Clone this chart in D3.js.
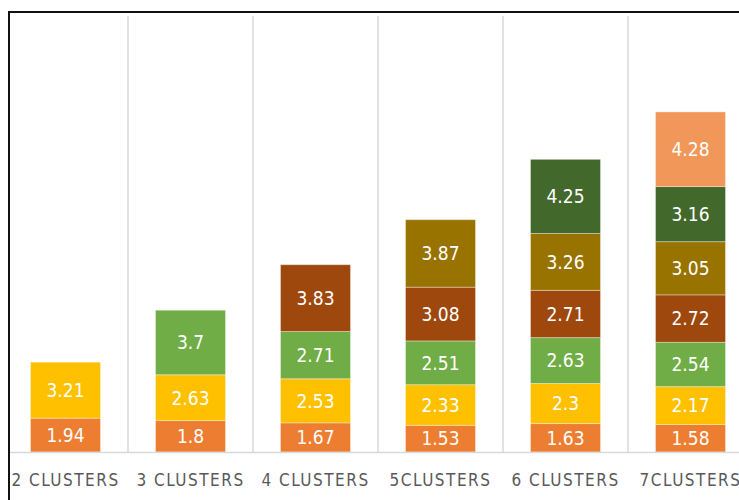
<!DOCTYPE html>
<html>
<head>
<meta charset="utf-8">
<script src="https://cdn.jsdelivr.net/npm/d3@7"></script>
<style>
  html, body { margin: 0; padding: 0; background: #fff; }
  svg { display: block; overflow: hidden; }
</style>
</head>
<body>
<svg id="chart" width="739" height="500"></svg>
<script>
// Categories along the x axis
const categories = ["2 CLUSTERS", "3 CLUSTERS", "4 CLUSTERS", "5CLUSTERS", "6 CLUSTERS", "7CLUSTERS"];

// One array per stacked level (bottom to top); 0 where a bar has no such level
const level1 = [1.94, 1.8, 1.67, 1.53, 1.63, 1.58];
const level2 = [3.21, 2.63, 2.53, 2.33, 2.3, 2.17];
const level3 = [0, 3.7, 2.71, 2.51, 2.63, 2.54];
const level4 = [0, 0, 3.83, 3.08, 2.71, 2.72];
const level5 = [0, 0, 0, 3.87, 3.26, 3.05];
const level6 = [0, 0, 0, 0, 4.25, 3.16];
const level7 = [0, 0, 0, 0, 0, 4.28];

const levelKeys = ["l1", "l2", "l3", "l4", "l5", "l6", "l7"];
const levelColors = ["#ED7D31", "#FFC000", "#70AD47", "#9E480E", "#997300", "#43682B", "#F1975A"];

const levels = [level1, level2, level3, level4, level5, level6, level7];
const rows = categories.map((c, i) => {
  const r = { cat: c };
  levelKeys.forEach((k, j) => { r[k] = levels[j][i]; });
  return r;
});

const svg = d3.select("#chart");
const baseY = 452, topY = 16;
const fontStack = "'Liberation Sans Narrow', 'DejaVu Sans Condensed', sans-serif";

const x = d3.scaleBand()
  .domain(categories)
  .range([3, 753])
  .paddingInner(0.44)
  .paddingOuter(0.22);

const y = d3.scaleLinear().domain([0, 25]).range([baseY, topY]);

// Vertical separators between categories
const step = x.step();
svg.append("g")
  .selectAll("line")
  .data(d3.range(1, categories.length))
  .join("line")
  .attr("x1", i => 3 + i * step)
  .attr("x2", i => 3 + i * step)
  .attr("y1", topY)
  .attr("y2", baseY)
  .attr("stroke", "#d9d9d9")
  .attr("stroke-width", 1.5);

// Stacked segments
const series = d3.stack().keys(levelKeys)(rows);
const groups = svg.append("g")
  .selectAll("g")
  .data(series)
  .join("g")
  .attr("fill", (d, i) => levelColors[i]);

groups.selectAll("rect")
  .data(d => d.filter(p => p[1] - p[0] > 0))
  .join("rect")
  .attr("x", d => x(d.data.cat))
  .attr("width", x.bandwidth())
  .attr("y", d => y(d[1]))
  .attr("height", d => y(d[0]) - y(d[1]))
  .attr("stroke", "rgba(255,255,255,0.35)")
  .attr("stroke-width", 1);

// Value labels centred in each segment
groups.selectAll("text")
  .data(d => d.filter(p => p[1] - p[0] > 0))
  .join("text")
  .attr("x", d => x(d.data.cat) + x.bandwidth() / 2)
  .attr("y", d => y((d[0] + d[1]) / 2))
  .attr("dy", "0.36em")
  .attr("text-anchor", "middle")
  .attr("fill", "#fff")
  .style("font-family", fontStack)
  .style("font-size", "19px")
  .text(d => String(+(d[1] - d[0]).toFixed(2)));

// Baseline
svg.append("line")
  .attr("x1", 8).attr("x2", 739)
  .attr("y1", baseY + 0.5).attr("y2", baseY + 0.5)
  .attr("stroke", "#d9d9d9")
  .attr("stroke-width", 1.5);

// Category axis labels
const xAxis = svg.append("g")
  .attr("transform", `translate(0,${baseY})`)
  .call(d3.axisBottom(x).tickSize(0).tickPadding(0));
xAxis.select(".domain").remove();
xAxis.selectAll("text")
  .attr("y", 28)
  .attr("dy", "0.36em")
  .attr("fill", "#595959")
  .style("font-family", fontStack)
  .style("font-size", "17px")
  .style("letter-spacing", "1.5px");

// Frame lines on the left and top
svg.append("line")
  .attr("x1", 9).attr("x2", 9).attr("y1", 11).attr("y2", 500)
  .attr("stroke", "#111").attr("stroke-width", 2);
svg.append("line")
  .attr("x1", 8).attr("x2", 739).attr("y1", 12).attr("y2", 12)
  .attr("stroke", "#111").attr("stroke-width", 2);
</script>
</body>
</html>
